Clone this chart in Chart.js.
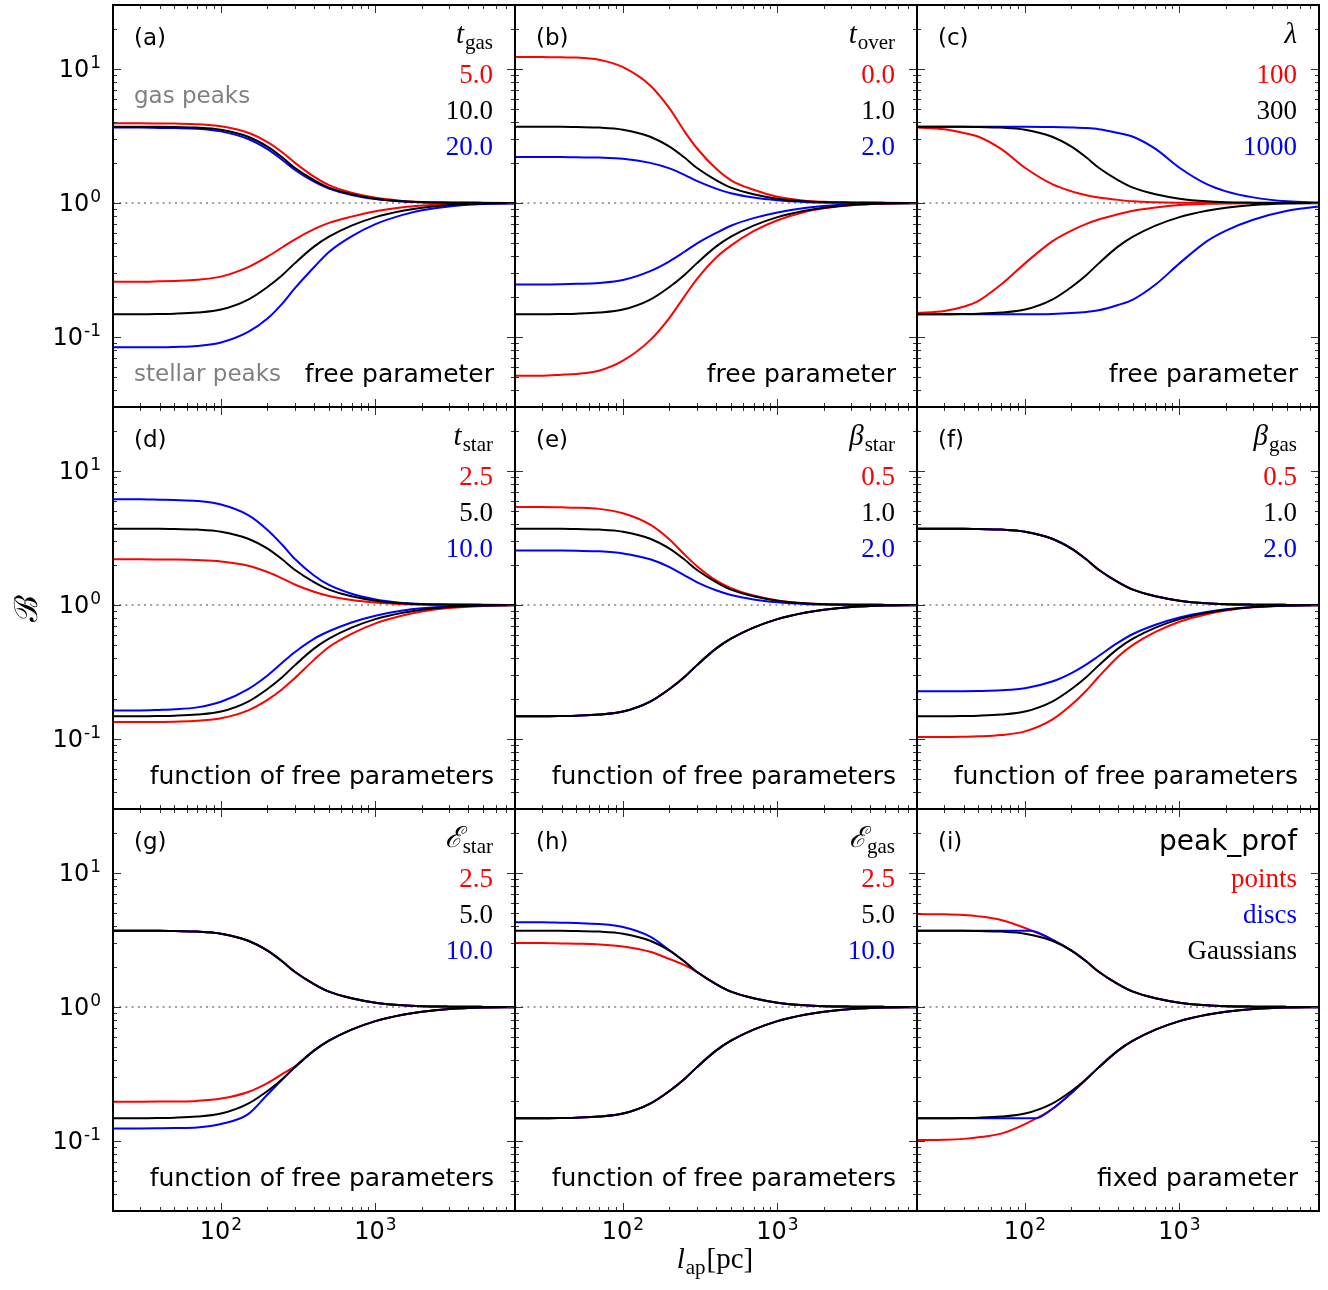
<!DOCTYPE html>
<html>
<head>
<meta charset="utf-8">
<script src="https://cdn.jsdelivr.net/npm/chart.js@4.4.0/dist/chart.umd.min.js"></script>
<style>
  html, body { margin: 0; padding: 0; background: #fff; }
  #fig { position: relative; width: 1328px; height: 1290px; overflow: hidden; background: #fff; }
  #fig canvas { position: absolute; }
</style>
</head>
<body>
<div id="fig"></div>
<script>
// aperture sizes l_ap [pc] at which every curve is sampled
var apertureSizes = [20, 30, 40, 50, 70, 100, 150, 200, 250, 300, 400, 500, 700, 1000, 1500, 2000, 3000, 5000, 8000];
// disc profiles bend sharply once the aperture exceeds the disc size
var discGasSizes  = [20, 30, 40, 50, 70, 100, 108, 150, 200, 250, 300, 400, 500, 700, 1000, 1500, 2000, 3000, 5000, 8000];
var discStarSizes = [20, 30, 40, 50, 70, 100, 117, 150, 200, 250, 300, 400, 500, 700, 1000, 1500, 2000, 3000, 5000, 8000];

// fiducial model, black in every panel
var gasFiducial  = [3.71, 3.71, 3.70, 3.68, 3.65, 3.52, 3.12, 2.63, 2.18, 1.83, 1.48, 1.30, 1.16, 1.076, 1.028, 1.013, 1.005, 1.001, 1.0];
var starFiducial = [0.1476, 0.1476, 0.1482, 0.149, 0.1519, 0.160, 0.190, 0.236, 0.290, 0.354, 0.472, 0.560, 0.677, 0.784, 0.875, 0.922, 0.965, 0.989, 0.995];

// (a) t_gas = 5, 20
var tgasGas5   = [3.93, 3.93, 3.92, 3.91, 3.87, 3.73, 3.34, 2.84, 2.38, 2.00, 1.57, 1.357, 1.191, 1.092, 1.036, 1.017, 1.006, 1.002, 1.0];
var tgasGas20  = [3.65, 3.65, 3.63, 3.62, 3.58, 3.42, 3.00, 2.52, 2.09, 1.77, 1.44, 1.279, 1.148, 1.07, 1.025, 1.012, 1.004, 1.001, 1.0];
var tgasStar5  = [0.258, 0.258, 0.260, 0.262, 0.267, 0.282, 0.332, 0.397, 0.467, 0.533, 0.637, 0.710, 0.790, 0.866, 0.927, 0.955, 0.981, 0.994, 0.997];
var tgasStar20 = [0.0836, 0.0836, 0.0836, 0.0842, 0.0857, 0.0909, 0.109, 0.137, 0.178, 0.230, 0.331, 0.430, 0.562, 0.694, 0.814, 0.881, 0.942, 0.980, 0.992];

// (b) t_over = 0, 2
var toverGas0  = [12.3, 12.3, 12.2, 12.15, 11.7, 10.3, 7.52, 5.07, 3.42, 2.57, 1.805, 1.476, 1.254, 1.111, 1.038, 1.019, 1.007, 1.002, 1.0];
var toverGas2  = [2.20, 2.20, 2.20, 2.19, 2.18, 2.14, 1.99, 1.81, 1.62, 1.46, 1.28, 1.181, 1.098, 1.048, 1.018, 1.0085, 1.003, 1.001, 1.0];
var toverStar0 = [0.0514, 0.0514, 0.0522, 0.053, 0.056, 0.0665, 0.0947, 0.139, 0.201, 0.269, 0.390, 0.480, 0.615, 0.743, 0.857, 0.911, 0.962, 0.987, 0.995];
var toverStar2 = [0.2466, 0.2466, 0.2475, 0.249, 0.253, 0.266, 0.310, 0.367, 0.432, 0.497, 0.596, 0.676, 0.770, 0.849, 0.916, 0.948, 0.977, 0.993, 0.997];

// (c) lambda = 100, 1000
var lambdaGas100   = [3.66, 3.55, 3.33, 3.12, 2.53, 1.83, 1.38, 1.22, 1.142, 1.099, 1.054, 1.028, 1.012, 1.005, 1.002, 1.001, 1.0, 1.0, 1.0];
var lambdaGas1000  = [3.71, 3.71, 3.71, 3.71, 3.71, 3.71, 3.69, 3.66, 3.62, 3.55, 3.33, 3.12, 2.53, 1.83, 1.38, 1.22, 1.10, 1.028, 1.009];
var lambdaStar100  = [0.1506, 0.156, 0.168, 0.186, 0.246, 0.354, 0.517, 0.622, 0.698, 0.752, 0.823, 0.875, 0.926, 0.965, 0.984, 0.991, 0.996, 0.998, 0.999];
var lambdaStar1000 = [0.1476, 0.1476, 0.1476, 0.1476, 0.1476, 0.1476, 0.1484, 0.1506, 0.1536, 0.158, 0.173, 0.190, 0.246, 0.354, 0.517, 0.622, 0.750, 0.875, 0.942];

// (d) t_star = 2.5, 10
var tstarGas25  = [2.19, 2.19, 2.185, 2.18, 2.16, 2.11, 1.96, 1.76, 1.574, 1.42, 1.253, 1.164, 1.089, 1.043, 1.016, 1.007, 1.003, 1.001, 1.0];
var tstarGas10  = [6.14, 6.14, 6.10, 6.07, 5.97, 5.61, 4.68, 3.63, 2.80, 2.21, 1.66, 1.409, 1.212, 1.099, 1.035, 1.016, 1.006, 1.002, 1.0];
var tstarStar25 = [0.1337, 0.1337, 0.1337, 0.1345, 0.1365, 0.1426, 0.1634, 0.1955, 0.236, 0.284, 0.389, 0.485, 0.608, 0.729, 0.834, 0.8935, 0.947, 0.981, 0.993];
var tstarStar10 = [0.163, 0.163, 0.1646, 0.1664, 0.172, 0.1895, 0.2355, 0.2975, 0.372, 0.444, 0.559, 0.636, 0.740, 0.831, 0.9085, 0.944, 0.975, 0.992, 0.997];

// (e) beta_star = 0.5, 2
var bstarGas05 = [5.38, 5.38, 5.35, 5.32, 5.21, 4.83, 3.97, 3.08, 2.38, 1.954, 1.523, 1.334, 1.175, 1.081, 1.029, 1.014, 1.005, 1.001, 1.0];
var bstarGas2  = [2.55, 2.55, 2.546, 2.536, 2.512, 2.424, 2.19, 1.917, 1.665, 1.482, 1.286, 1.186, 1.10, 1.048, 1.017, 1.008, 1.003, 1.001, 1.0];

// (f) beta_gas = 0.5, 2
var bgasStar05 = [0.1033, 0.1033, 0.1038, 0.1045, 0.1069, 0.1138, 0.1394, 0.180, 0.230, 0.291, 0.411, 0.503, 0.629, 0.749, 0.853, 0.908, 0.959, 0.987, 0.994];
var bgasStar2  = [0.2265, 0.2265, 0.2269, 0.2278, 0.2307, 0.239, 0.268, 0.310, 0.360, 0.416, 0.5225, 0.607, 0.712, 0.806, 0.885, 0.928, 0.966, 0.988, 0.995];

// (g) E_star = 2.5, 10
var estarStar25 = [0.1963, 0.1963, 0.1965, 0.197, 0.199, 0.207, 0.232, 0.270, 0.316, 0.360, 0.472, 0.560, 0.677, 0.784, 0.875, 0.922, 0.965, 0.989, 0.995];
var estarStar10 = [0.124, 0.124, 0.1243, 0.1247, 0.126, 0.1336, 0.1585, 0.222, 0.289, 0.354, 0.472, 0.560, 0.677, 0.784, 0.875, 0.922, 0.965, 0.989, 0.995];

// (h) E_gas = 2.5, 10
var egasGas25 = [3.0, 3.0, 2.98, 2.965, 2.93, 2.83, 2.584, 2.279, 2.05, 1.83, 1.48, 1.30, 1.16, 1.076, 1.028, 1.013, 1.005, 1.001, 1.0];
var egasGas10 = [4.28, 4.28, 4.25, 4.23, 4.16, 3.95, 3.35, 2.65, 2.18, 1.83, 1.48, 1.30, 1.16, 1.076, 1.028, 1.013, 1.005, 1.001, 1.0];

// (i) peak profiles: points and discs (Gaussians = fiducial)
var pointsGas  = [4.93, 4.91, 4.85, 4.74, 4.45, 3.88, 3.18, 2.63, 2.18, 1.83, 1.48, 1.30, 1.16, 1.076, 1.028, 1.013, 1.005, 1.001, 1.0];
var pointsStar = [0.1016, 0.1022, 0.1036, 0.1064, 0.1134, 0.1337, 0.173, 0.228, 0.290, 0.354, 0.472, 0.560, 0.677, 0.784, 0.875, 0.922, 0.965, 0.989, 0.995];
var discsGas   = [3.71, 3.71, 3.71, 3.71, 3.71, 3.71, 3.71, 3.18, 2.63, 2.18, 1.83, 1.48, 1.30, 1.16, 1.076, 1.028, 1.013, 1.005, 1.001, 1.0];
var discsStar  = [0.1476, 0.1476, 0.1476, 0.1476, 0.1476, 0.1476, 0.1476, 0.173, 0.228, 0.290, 0.354, 0.472, 0.560, 0.677, 0.784, 0.875, 0.922, 0.965, 0.989, 0.995];

// axes
var xRange = [20, 8000];
var yRange = [0.03, 30];
var xMajorTicks = [100, 1000];
var xTickExponents = ['2', '3'];
var yMajorTicks = [0.1, 1, 10];
var yTickExponents = ['-1', '0', '1'];

var RED = '#ff0000', BLACK = '#000000', BLUE = '#0000ff', GREY = '#808080';
var SANS = '"DejaVu Sans", "Bitstream Vera Sans", sans-serif';
var SERIF = '"Liberation Serif", "DejaVu Serif", serif';
var FOFP = 'function of free parameters';

var panels = [
  { tag: '(a)', symbol: 't', sub: 'gas', values: ['5.0', '10.0', '20.0'], note: 'free parameter',
    red: [tgasGas5, tgasStar5], blue: [tgasGas20, tgasStar20] },
  { tag: '(b)', symbol: 't', sub: 'over', values: ['0.0', '1.0', '2.0'], note: 'free parameter',
    red: [toverGas0, toverStar0], blue: [toverGas2, toverStar2] },
  { tag: '(c)', symbol: 'λ', sub: '', values: ['100', '300', '1000'], note: 'free parameter',
    red: [lambdaGas100, lambdaStar100], blue: [lambdaGas1000, lambdaStar1000] },
  { tag: '(d)', symbol: 't', sub: 'star', values: ['2.5', '5.0', '10.0'], note: FOFP,
    red: [tstarGas25, tstarStar25], blue: [tstarGas10, tstarStar10] },
  { tag: '(e)', symbol: 'β', sub: 'star', values: ['0.5', '1.0', '2.0'], note: FOFP,
    red: [bstarGas05, starFiducial], blue: [bstarGas2, starFiducial] },
  { tag: '(f)', symbol: 'β', sub: 'gas', values: ['0.5', '1.0', '2.0'], note: FOFP,
    red: [gasFiducial, bgasStar05], blue: [gasFiducial, bgasStar2] },
  { tag: '(g)', symbol: 'ℰ', sub: 'star', values: ['2.5', '5.0', '10.0'], note: FOFP,
    red: [gasFiducial, estarStar25], blue: [gasFiducial, estarStar10] },
  { tag: '(h)', symbol: 'ℰ', sub: 'gas', values: ['2.5', '5.0', '10.0'], note: FOFP,
    red: [egasGas25, starFiducial], blue: [egasGas10, starFiducial] },
  { tag: '(i)', symbol: 'peak_prof', sub: null, values: ['points', 'discs', 'Gaussians'], note: 'fixed parameter',
    valueColors: [RED, BLUE, BLACK],
    red: [pointsGas, pointsStar], blue: [discsGas, discsStar], blueX: [discGasSizes, discStarSizes] }
];

var PANEL = 402, LEFT0 = 113, TOP0 = 5;

function curve(xs, ys, color, order) {
  return {
    data: xs.map(function (x, i) { return { x: x, y: ys[i] }; }),
    borderColor: color, borderWidth: 2, pointRadius: 0, fill: false,
    cubicInterpolationMode: 'monotone', order: order
  };
}

function txt(ctx, s, x, y, font, color, align) {
  ctx.font = font;
  ctx.fillStyle = color;
  ctx.textAlign = align || 'left';
  ctx.textBaseline = 'alphabetic';
  ctx.fillText(s, x, y);
  return ctx.measureText(s).width;
}

// "10" with a raised exponent, anchored right or centred
function power(ctx, exp, x, y, align) {
  ctx.font = '24px ' + SANS;
  var wb = ctx.measureText('10').width;
  ctx.font = '17px ' + SANS;
  var we = ctx.measureText(exp).width;
  var total = wb + 1 + we;
  var x0 = align === 'center' ? x - total / 2 : x - total;
  txt(ctx, '10', x0, y, '24px ' + SANS, BLACK);
  txt(ctx, exp, x0 + wb + 1, y - 9, '17px ' + SANS, BLACK);
}

function logTicks(lo, hi) {
  var out = [];
  for (var d = 0.01; d <= 1000; d *= 10) {
    for (var m = 1; m <= 9; m++) {
      var v = +(m * d).toPrecision(6);
      if (v > lo * 1.0001 && v < hi * 0.9999) out.push({ v: v, major: m === 1 });
    }
  }
  return out;
}

function panelFrame(p, col, row) {
  return {
    id: 'panelFrame',
    afterDraw: function (chart) {
      var ctx = chart.ctx, a = chart.chartArea;
      var sx = chart.scales.x, sy = chart.scales.y;
      ctx.save();

      // inward ticks on all four sides
      ctx.strokeStyle = '#333';
      ctx.lineWidth = 1;
      ctx.beginPath();
      logTicks(xRange[0], xRange[1]).forEach(function (t) {
        var px = Math.round(sx.getPixelForValue(t.v)) + 0.5, len = t.major ? 8 : 4;
        ctx.moveTo(px, a.bottom); ctx.lineTo(px, a.bottom - len);
        ctx.moveTo(px, a.top); ctx.lineTo(px, a.top + len);
      });
      logTicks(yRange[0], yRange[1]).forEach(function (t) {
        var py = Math.round(sy.getPixelForValue(t.v)) + 0.5, len = t.major ? 8 : 4;
        ctx.moveTo(a.left, py); ctx.lineTo(a.left + len, py);
        ctx.moveTo(a.right, py); ctx.lineTo(a.right - len, py);
      });
      ctx.stroke();

      ctx.lineWidth = 2;
      ctx.strokeStyle = BLACK;
      ctx.strokeRect(a.left, a.top, a.right - a.left, a.bottom - a.top);

      // tick labels on the outer panels only
      if (col === 0) {
        yMajorTicks.forEach(function (v, i) {
          power(ctx, yTickExponents[i], a.left - 12, sy.getPixelForValue(v) + 8, 'right');
        });
      }
      if (row === 2) {
        xMajorTicks.forEach(function (v, i) {
          power(ctx, xTickExponents[i], sx.getPixelForValue(v), a.bottom + 28, 'center');
        });
      }

      // panel letter, parameter name and values
      txt(ctx, p.tag, a.left + 21, a.top + 40, '23px ' + SANS, BLACK);
      var R = a.right - 22;
      if (p.sub === null) {
        txt(ctx, p.symbol, R, a.top + 41, '28px ' + SANS, BLACK, 'right');
      } else {
        var x = R;
        if (p.sub) x -= txt(ctx, p.sub, x, a.top + 44, '21px ' + SERIF, BLACK, 'right') + 1;
        txt(ctx, p.symbol, x, a.top + 38, 'italic 29px ' + SERIF, BLACK, 'right');
      }
      var colors = p.valueColors || [RED, BLACK, BLUE];
      p.values.forEach(function (s, i) {
        txt(ctx, s, R, a.top + 78 + 36 * i, '27px ' + SERIF, colors[i], 'right');
      });
      txt(ctx, p.note, a.right - 21, a.top + 377, '25px ' + SANS, BLACK, 'right');

      if (p.tag === '(a)') {
        txt(ctx, 'gas peaks', a.left + 21, a.top + 98, '23px ' + SANS, GREY);
        txt(ctx, 'stellar peaks', a.left + 21, a.top + 376, '23px ' + SANS, GREY);
      }

      // shared axis titles
      if (p.tag === '(d)') {
        ctx.save();
        ctx.translate(29, a.top + 201);
        ctx.rotate(-Math.PI / 2);
        ctx.font = '32px ' + SERIF;
        ctx.fillStyle = BLACK;
        ctx.textAlign = 'center';
        ctx.textBaseline = 'middle';
        ctx.fillText('ℬ', 0, 0);
        ctx.restore();
      }
      if (p.tag === '(h)') {
        ctx.font = 'italic 29px ' + SERIF; var w1 = ctx.measureText('l').width;
        ctx.font = '21px ' + SERIF; var w2 = ctx.measureText('ap').width;
        ctx.font = '29px ' + SERIF; var w3 = ctx.measureText('[pc]').width;
        var x0 = a.left + 200 - (w1 + w2 + w3 + 2) / 2, yb = a.bottom + 57;
        txt(ctx, 'l', x0, yb, 'italic 29px ' + SERIF, BLACK);
        txt(ctx, 'ap', x0 + w1 + 1, yb + 6, '21px ' + SERIF, BLACK);
        txt(ctx, '[pc]', x0 + w1 + w2 + 2, yb, '29px ' + SERIF, BLACK);
      }
      ctx.restore();
    }
  };
}

var fig = document.getElementById('fig');
panels.forEach(function (p, k) {
  var col = k % 3, row = Math.floor(k / 3);
  var pad = {
    left: col === 0 ? 113 : 6,
    right: 6,
    top: row === 0 ? 5 : 6,
    bottom: row === 2 ? 79 : 6
  };
  var w = PANEL + pad.left + pad.right, h = PANEL + pad.top + pad.bottom;
  var cv = document.createElement('canvas');
  cv.width = w; cv.height = h;
  cv.style.width = w + 'px'; cv.style.height = h + 'px';
  cv.style.left = (LEFT0 + col * PANEL - pad.left) + 'px';
  cv.style.top = (TOP0 + row * PANEL - pad.top) + 'px';
  fig.appendChild(cv);

  var blueX = p.blueX || [apertureSizes, apertureSizes];
  var datasets = [
    curve(apertureSizes, gasFiducial, BLACK, 0),
    curve(apertureSizes, starFiducial, BLACK, 0),
    curve(blueX[0], p.blue[0], BLUE, 1),
    curve(blueX[1], p.blue[1], BLUE, 1),
    curve(apertureSizes, p.red[0], RED, 2),
    curve(apertureSizes, p.red[1], RED, 2),
    {
      data: [{ x: xRange[0], y: 1 }, { x: xRange[1], y: 1 }],
      borderColor: GREY, borderWidth: 1.5, borderDash: [2, 4.2],
      pointRadius: 0, fill: false, tension: 0, order: 3
    }
  ];

  new Chart(cv, {
    type: 'line',
    data: { datasets: datasets },
    options: {
      responsive: false,
      animation: false,
      devicePixelRatio: 1,
      events: [],
      layout: { padding: pad },
      plugins: { legend: { display: false }, tooltip: { enabled: false } },
      scales: {
        x: { type: 'logarithmic', min: xRange[0], max: xRange[1], display: false },
        y: { type: 'logarithmic', min: yRange[0], max: yRange[1], display: false }
      }
    },
    plugins: [panelFrame(p, col, row)]
  });
});
</script>
</body>
</html>
